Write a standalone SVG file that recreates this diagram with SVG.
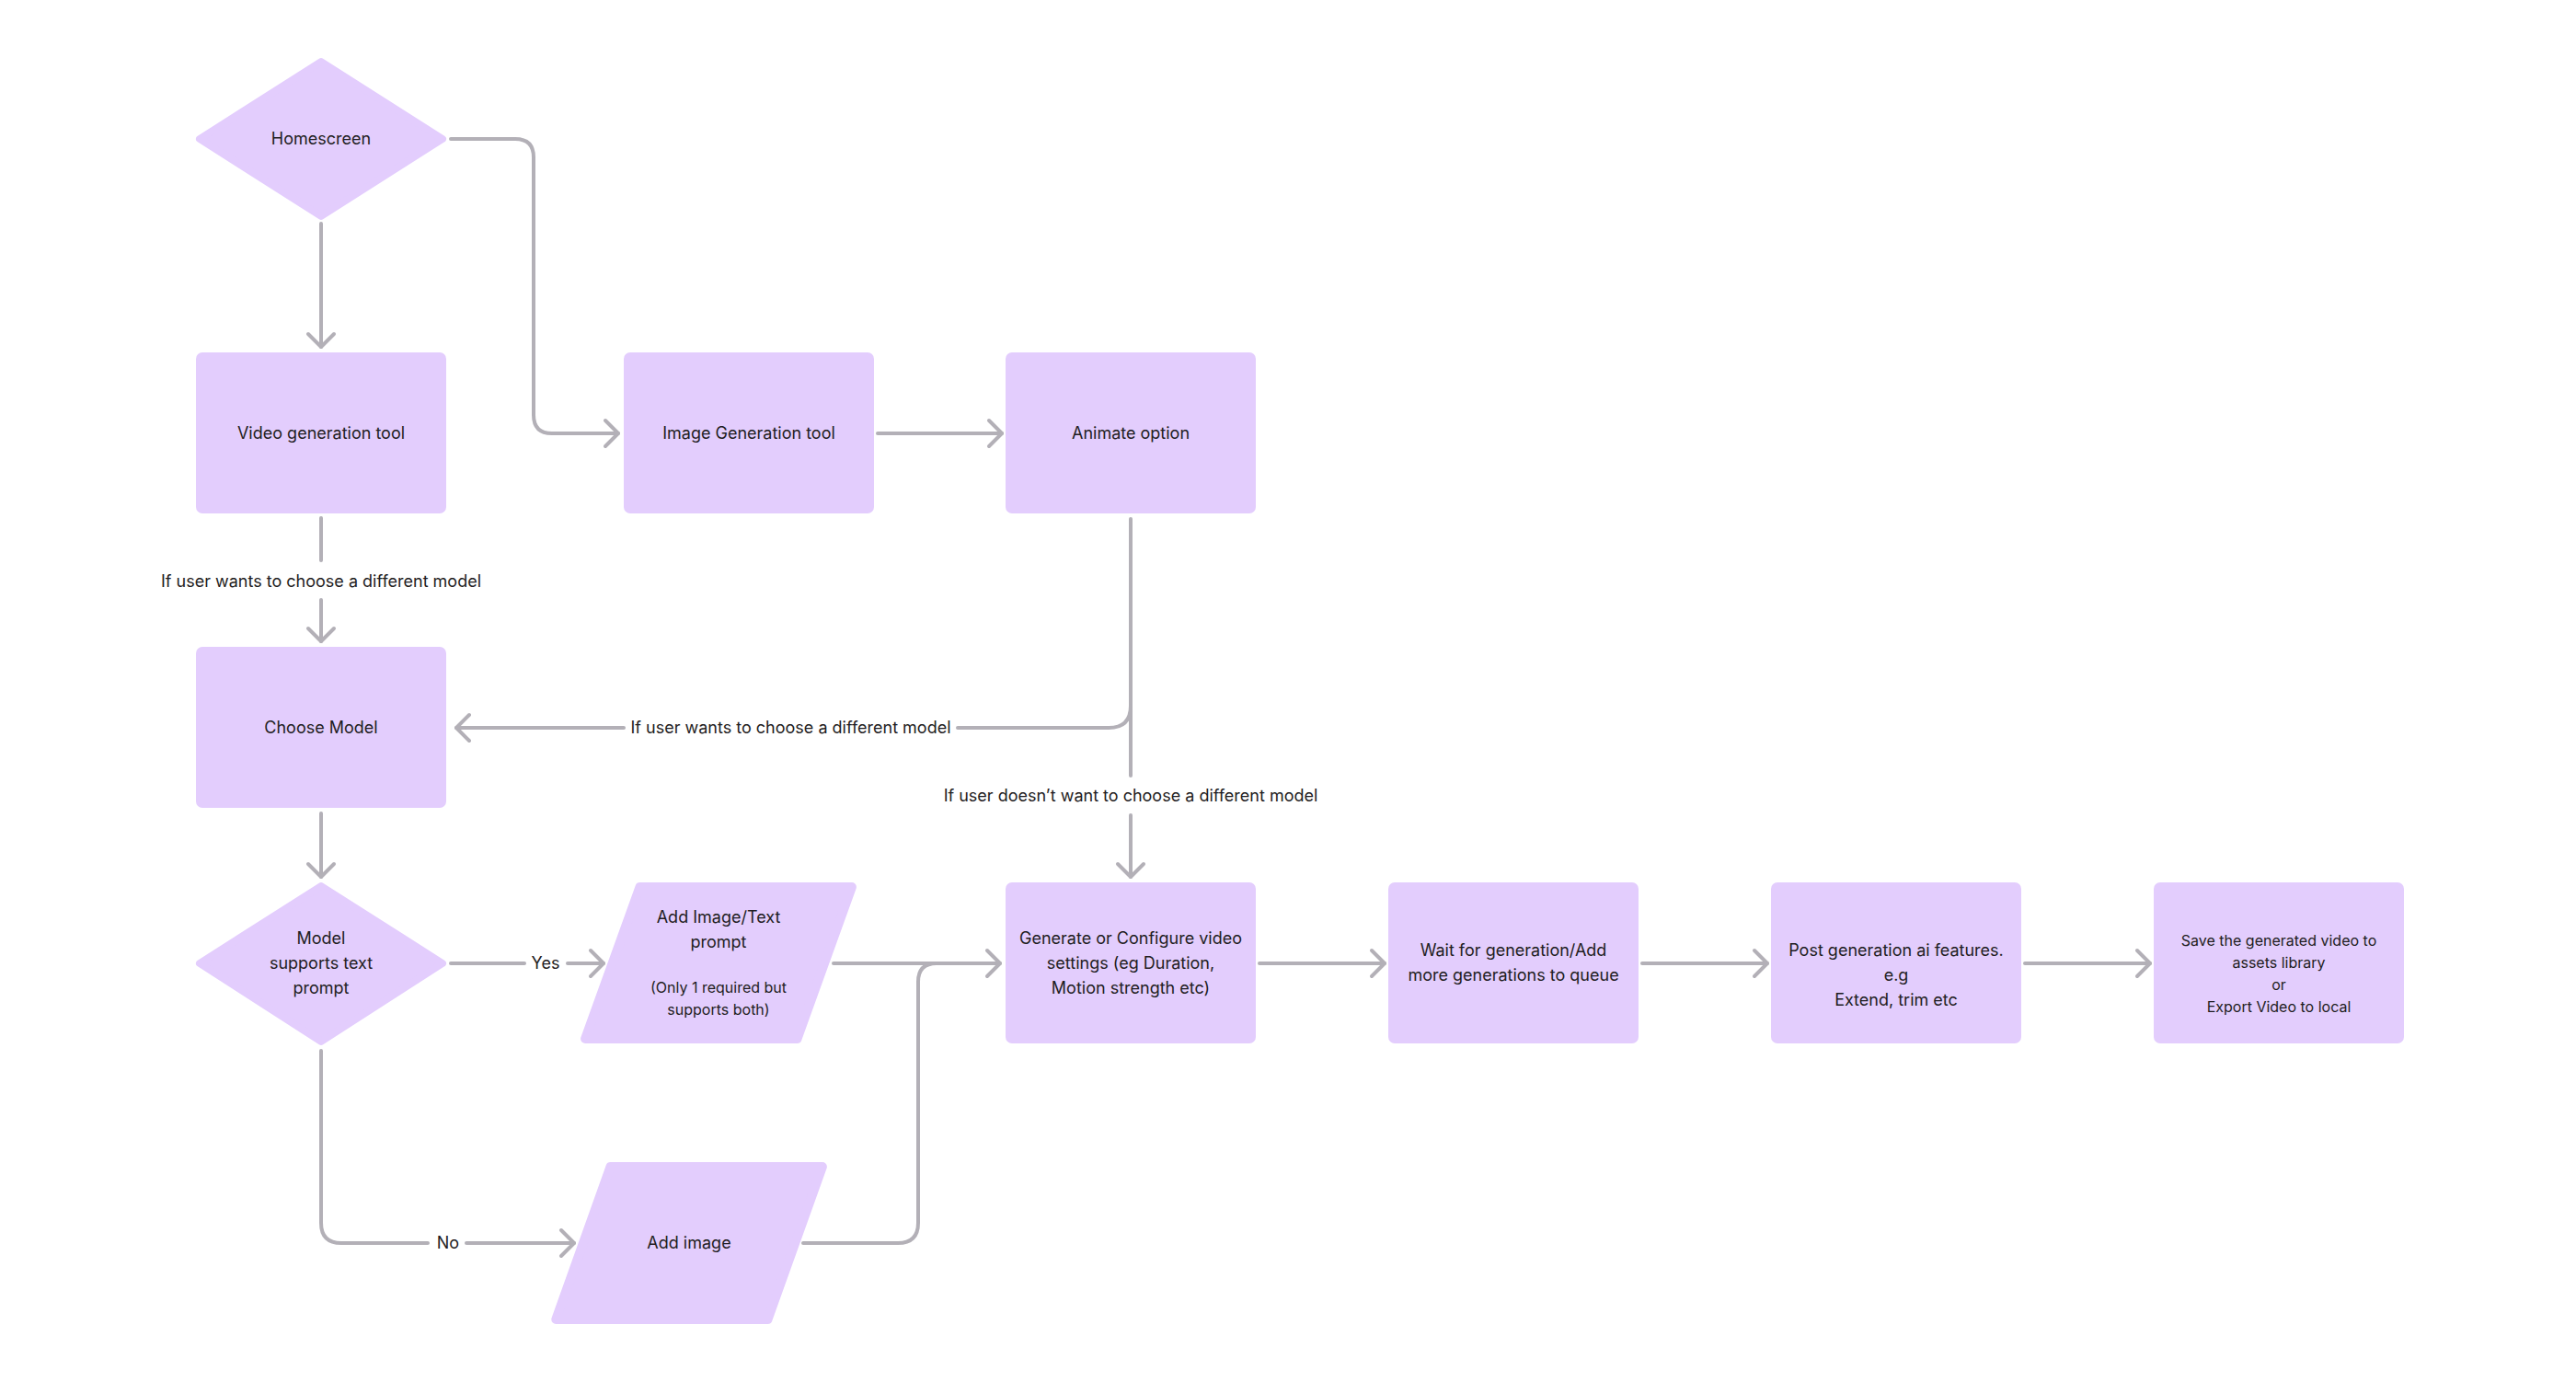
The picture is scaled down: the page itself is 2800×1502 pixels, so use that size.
<svg xmlns="http://www.w3.org/2000/svg" width="2800" height="1502" viewBox="0 0 2800 1502">
<style>
.shape{fill:#e3cdfd;}
.poly{fill:#e3cdfd;stroke:#e3cdfd;stroke-width:10;stroke-linejoin:round;}
.dia{fill:#e3cdfd;stroke:#e3cdfd;stroke-width:8;stroke-linejoin:round;}
text{font-family:"Inter","Liberation Sans",sans-serif;font-size:18px;fill:#1f1d22;text-anchor:middle;}
.sm{font-size:16px;}
.conn path{fill:none;stroke:#b3b0b7;stroke-width:4;stroke-linecap:round;stroke-linejoin:round;}
</style>
<defs>
<marker id="arr" markerUnits="userSpaceOnUse" markerWidth="40" markerHeight="40" viewBox="-20 -20 40 40" refX="0" refY="0" orient="auto" overflow="visible">
<path d="M-14,-14 L0,0 L-14,14" fill="none" stroke="#b3b0b7" stroke-width="4" stroke-linecap="round" stroke-linejoin="round"/>
</marker>
</defs>
<rect width="2800" height="1502" fill="#ffffff"/>

<g id="connectors" class="conn">
<path d="M349,243 V377" marker-end="url(#arr)"/>
<path d="M490,151 H560 Q580,151 580,171 V451 Q580,471 600,471 H672" marker-end="url(#arr)"/>
<path d="M954,471 H1089" marker-end="url(#arr)"/>
<path d="M349,563 V609"/>
<path d="M349,652 V697" marker-end="url(#arr)"/>
<path d="M1229,564 V843"/>
<path d="M1229,767 Q1229,791 1205,791 H1041"/>
<path d="M678,791 H496" marker-end="url(#arr)"/>
<path d="M1229,886 V953" marker-end="url(#arr)"/>
<path d="M349,884 V953" marker-end="url(#arr)"/>
<path d="M490,1047 H570"/>
<path d="M617,1047 H656" marker-end="url(#arr)"/>
<path d="M349,1142 V1329 Q349,1351 371,1351 H465"/>
<path d="M507,1351 H624" marker-end="url(#arr)"/>
<path d="M906,1047 H1087" marker-end="url(#arr)"/>
<path d="M873,1351 H976 Q998,1351 998,1329 V1067 Q998,1047 1018,1047 H1040"/>
<path d="M1369,1047 H1505" marker-end="url(#arr)"/>
<path d="M1785,1047 H1921" marker-end="url(#arr)"/>
<path d="M2201,1047 H2337" marker-end="url(#arr)"/>
<text x="349" y="638">If user wants to choose a different model</text>
<text x="859.5" y="797">If user wants to choose a different model</text>
<text x="1229" y="871">If user doesn’t want to choose a different model</text>
<text x="593" y="1053">Yes</text>
<text x="487" y="1357">No</text>
</g>

<g id="homescreen">
<polygon class="dia" points="349,67 481,151 349,235 217,151"/>
<text x="349" y="157">Homescreen</text>
</g>
<g id="video-generation-tool">
<rect class="shape" x="213" y="383" width="272" height="175" rx="7"/>
<text x="349" y="477">Video generation tool</text>
</g>
<g id="image-generation-tool">
<rect class="shape" x="678" y="383" width="272" height="175" rx="7"/>
<text x="814" y="477">Image Generation tool</text>
</g>
<g id="animate-option">
<rect class="shape" x="1093" y="383" width="272" height="175" rx="7"/>
<text x="1229" y="477">Animate option</text>
</g>
<g id="choose-model">
<rect class="shape" x="213" y="703" width="272" height="175" rx="7"/>
<text x="349" y="797">Choose Model</text>
</g>
<g id="model-supports-text-prompt">
<polygon class="dia" points="349,963 481,1047 349,1132 217,1047"/>
<text x="349" y="1026">Model</text>
<text x="349" y="1053">supports text</text>
<text x="349" y="1080">prompt</text>
</g>
<g id="add-image-text-prompt">
<polygon class="poly" points="695.5,964 925.9,964 866.5,1129 636.1,1129"/>
<text x="781" y="1003">Add Image/Text</text>
<text x="781" y="1030">prompt</text>
<text class="sm" x="781" y="1078.5">(Only 1 required but</text>
<text class="sm" x="781" y="1102.5">supports both)</text>
</g>
<g id="add-image">
<polygon class="poly" points="663.5,1268 893.9,1268 834.5,1434 604.3,1434"/>
<text x="749" y="1357">Add image</text>
</g>
<g id="generate-configure">
<rect class="shape" x="1093" y="959" width="272" height="175" rx="7"/>
<text x="1229" y="1026">Generate or Configure video</text>
<text x="1229" y="1053">settings (eg Duration,</text>
<text x="1229" y="1080">Motion strength etc)</text>
</g>
<g id="wait-for-generation">
<rect class="shape" x="1509" y="959" width="272" height="175" rx="7"/>
<text x="1645" y="1039">Wait for generation/Add</text>
<text x="1645" y="1066">more generations to queue</text>
</g>
<g id="post-generation">
<rect class="shape" x="1925" y="959" width="272" height="175" rx="7"/>
<text x="2061" y="1039">Post generation ai features.</text>
<text x="2061" y="1066">e.g</text>
<text x="2061" y="1093">Extend, trim etc</text>
</g>
<g id="save-export">
<rect class="shape" x="2341" y="959" width="272" height="175" rx="7"/>
<text class="sm" x="2477" y="1028">Save the generated video to</text>
<text class="sm" x="2477" y="1052">assets library</text>
<text class="sm" x="2477" y="1076">or</text>
<text class="sm" x="2477" y="1100">Export Video to local</text>
</g>
</svg>
